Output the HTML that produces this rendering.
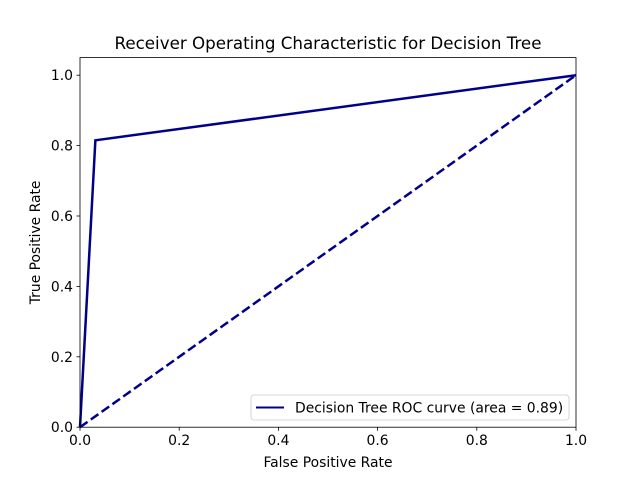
<!DOCTYPE html>
<html><head><meta charset="utf-8"><style>
body{margin:0;background:#fff;}
svg{display:block;font-family:"DejaVu Sans","Liberation Sans",sans-serif;}
</style></head><body>
<svg id="chart" width="640" height="480" viewBox="0 0 640 480">
<rect width="640" height="480" fill="#fff"/>
<text x="328" y="49" font-size="16.7" text-anchor="middle">Receiver Operating Characteristic for Decision Tree</text>
<g id="ticks"></g>
<g id="series"></g>
<rect x="80" y="57.6" width="496" height="369.6" fill="none" stroke="#000" stroke-width="0.8"/>
<text x="328" y="467" font-size="13.9" text-anchor="middle">False Positive Rate</text>
<text transform="translate(40,242.4) rotate(-90)" font-size="13.9" text-anchor="middle">True Positive Rate</text>
<g>
<rect x="251" y="395" width="318" height="25" rx="3" fill="#fff" fill-opacity="0.8" stroke="#ccc" stroke-width="0.8"/>
<line x1="256" y1="407.5" x2="284" y2="407.5" stroke="#00008b" stroke-width="2"/>
<text x="295" y="412.5" font-size="13.9">Decision Tree ROC curve (area = 0.89)</text>
</g>
</svg>
<script>
const fpr = [0, 0.031, 1];
const tpr = [0, 0.815, 1];
const diagX = [0, 1];
const diagY = [0, 1];
const xTicks = [0, 0.2, 0.4, 0.6, 0.8, 1.0];
const yTicks = [0, 0.2, 0.4, 0.6, 0.8, 1.0];
const xTickLabels = ["0.0","0.2","0.4","0.6","0.8","1.0"];
const yTickLabels = ["0.0","0.2","0.4","0.6","0.8","1.0"];
const NS="http://www.w3.org/2000/svg";
const L=80,R=576,T=57.6,B=427.2;
const xs=v=>L+(v-0)/(1-0)*(R-L);
const ys=v=>B-(v-0)/(1.05-0)*(B-T);
const tg=document.getElementById('ticks');
function mk(tag,attrs,parent){const e=document.createElementNS(NS,tag);for(const k in attrs)e.setAttribute(k,attrs[k]);parent.appendChild(e);return e;}
xTicks.forEach((v,i)=>{
  const l=mk('line',{x1:xs(v),x2:xs(v),y1:B,y2:B+3.5,stroke:'#000','stroke-width':0.8},tg);
  
  
  const t=mk('text',{x:xs(v),y:B+18,'font-size':13.9,'text-anchor':'middle'},tg);
  t.textContent=xTickLabels[i];
  
  
});
yTicks.forEach((v,i)=>{
  const l=mk('line',{x1:L-3.5,x2:L,y1:ys(v),y2:ys(v),stroke:'#000','stroke-width':0.8},tg);
  
  
  const t=mk('text',{x:L-7,y:ys(v)+5,'font-size':13.9,'text-anchor':'end'},tg);
  t.textContent=yTickLabels[i];
  
  
});
const sg=document.getElementById('series');
const d=mk('polyline',{points:diagX.map((x,i)=>xs(x)+','+ys(diagY[i])).join(' '),fill:'none',stroke:'#00008b','stroke-width':2.5,'stroke-dasharray':'9.25,4'},sg);


const r=mk('polyline',{points:fpr.map((x,i)=>xs(x)+','+ys(tpr[i])).join(' '),fill:'none',stroke:'#00008b','stroke-width':2.5},sg);


</script>
</body></html>
